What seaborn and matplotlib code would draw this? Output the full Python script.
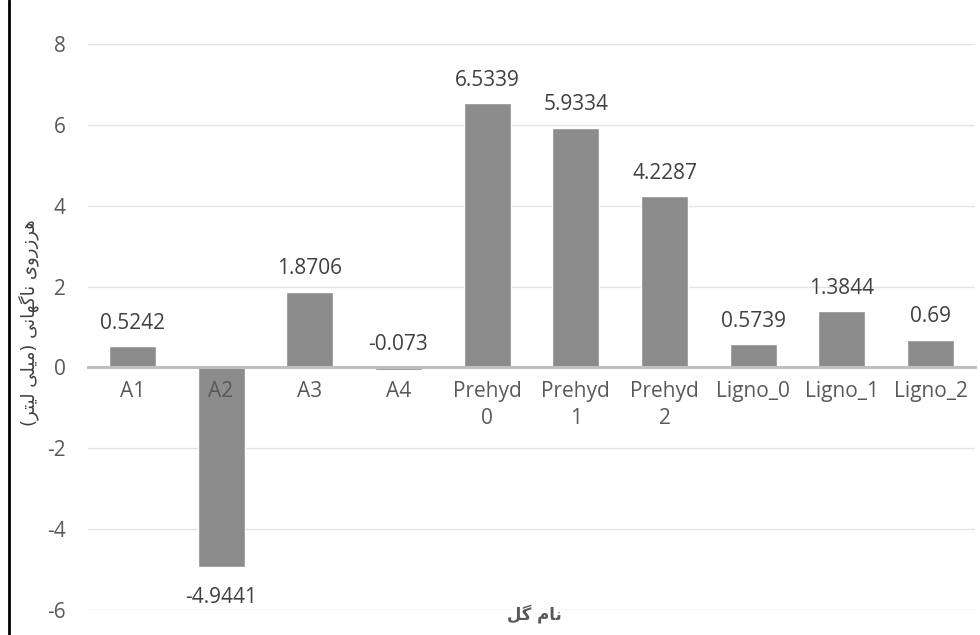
import matplotlib
matplotlib.use("Agg")
import matplotlib.pyplot as plt
import seaborn as sns
import pandas as pd
from matplotlib.lines import Line2D

categories = ["A1", "A2", "A3", "A4", "Prehyd\n0", "Prehyd\n1", "Prehyd\n2",
              "Ligno_0", "Ligno_1", "Ligno_2"]
values = [0.5242, -4.9441, 1.8706, -0.073, 6.5339, 5.9334, 4.2287,
          0.5739, 1.3844, 0.69]
value_labels = ["0.5242", "-4.9441", "1.8706", "-0.073", "6.5339", "5.9334",
                "4.2287", "0.5739", "1.3844", "0.69"]
y_ticks = [-6, -4, -2, 0, 2, 4, 6, 8]

# Persian titles, written as shaped presentation forms in visual order
x_title = "\uFEDE\uFB94 \uFEE1\uFE8E\uFEE7"  # نام گل
y_title = ("(\uFEAE\uFE98\uFBFF\uFEDF \uFBFD\uFEE0\uFBFF\uFEE3) "
           "\uFBFD\uFEE7\uFE8E\uFEEC\uFB94\uFE8E\uFEE7 "
           "\uFBFC\uFEED\uFEAD\uFEAF\uFEAE\uFEEB")  # هرزروی ناگهانی (میلی لیتر)

sns.set_theme(style="white")
plt.rcParams["font.family"] = ["Open Sans", "DejaVu Sans"]

df = pd.DataFrame({"cat": categories, "val": values})

fig = plt.figure(figsize=(9.8, 6.35), dpi=100)
ax = fig.add_axes([88 / 980, 1 - 610 / 635, (975 - 88) / 980, (610 - 44) / 635])

sns.barplot(data=df, x="cat", y="val", color="#8C8C8C", saturation=1,
            width=0.53, ax=ax, zorder=3)

ax.set_ylim(-6, 8)
ax.set_xlim(-0.5, len(categories) - 0.5)
ax.set_yticks(y_ticks)
ax.set_yticklabels([str(t) for t in y_ticks])
ax.yaxis.grid(True, color="#E4E4E4", linewidth=1.0, zorder=0)
ax.set_axisbelow(True)

for s in ["top", "right", "left"]:
    ax.spines[s].set_visible(False)
ax.spines["bottom"].set_position(("data", 0))
ax.spines["bottom"].set_color("#BFBFBF")
ax.spines["bottom"].set_linewidth(2.2)
ax.spines["bottom"].set_zorder(4)
ax.xaxis.set_zorder(5)

ax.tick_params(axis="both", length=0, labelsize=15, colors="#595959")
ax.tick_params(axis="x", pad=10)
ax.tick_params(axis="y", pad=16)
for t in ax.get_xticklabels():
    t.set_linespacing(1.35)
ax.set_xlabel("")
ax.set_ylabel("")

for i, (v, lab) in enumerate(zip(values, value_labels)):
    if v < -1:
        ax.annotate(lab, (i, v), xytext=(0, -14), textcoords="offset points",
                    ha="center", va="top", fontsize=15, color="#404040")
    else:
        ax.annotate(lab, (i, max(v, 0)), xytext=(0, 9), textcoords="offset points",
                    ha="center", va="bottom", fontsize=15, color="#404040")

fig.text(534 / 980, 1 - 614 / 635, x_title, ha="center", va="center",
         fontsize=12, fontweight="bold", color="#595959", family=["DejaVu Sans"])
fig.text(29 / 980, 1 - 323 / 635, y_title, ha="center", va="center",
         rotation=90, fontsize=13, color="#404040", family=["DejaVu Sans"])

fig.add_artist(Line2D([9 / 980, 9 / 980], [0, 1], transform=fig.transFigure,
                      color="black", linewidth=2))

fig.savefig("out.png", dpi=100)
